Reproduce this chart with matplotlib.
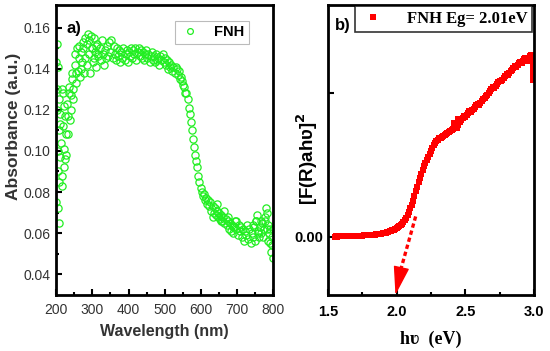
import matplotlib
matplotlib.use("Agg")
import matplotlib.pyplot as plt
import numpy as np

# ---- panel a) absorbance, 200..800 nm every 3 nm
wl = np.arange(200, 801, 3)
absorb = [
    0.075, 0.152, 0.141, 0.065, 0.113, 0.083, 0.128, 0.092, 0.117, 0.098,
    0.123, 0.108, 0.131, 0.115, 0.127, 0.138, 0.125, 0.147, 0.133, 0.150,
    0.139, 0.151, 0.136, 0.148, 0.143, 0.153, 0.138, 0.155, 0.142, 0.157,
    0.147, 0.138, 0.156, 0.150, 0.143, 0.155, 0.148, 0.141, 0.152, 0.146,
    0.150, 0.144, 0.154, 0.147, 0.142, 0.149, 0.145, 0.151, 0.146, 0.153,
    0.148, 0.154, 0.145, 0.151, 0.147, 0.144, 0.150, 0.146, 0.149, 0.143,
    0.148, 0.145, 0.150, 0.144, 0.147, 0.149, 0.143, 0.148, 0.146, 0.150,
    0.145, 0.149, 0.147, 0.150, 0.144, 0.148, 0.150, 0.146, 0.149, 0.145,
    0.148, 0.144, 0.147, 0.149, 0.145, 0.147, 0.143, 0.146, 0.148, 0.144,
    0.146, 0.143, 0.147, 0.144, 0.145, 0.142, 0.146, 0.144, 0.147, 0.143,
    0.145, 0.142, 0.144, 0.140, 0.143, 0.141, 0.142, 0.139, 0.141, 0.138,
    0.141, 0.140, 0.137, 0.139, 0.135, 0.136, 0.134, 0.132, 0.131, 0.128,
    0.128, 0.125, 0.121, 0.118, 0.114, 0.110, 0.106, 0.102, 0.098, 0.095,
    0.092, 0.088, 0.085, 0.082, 0.080, 0.078, 0.079, 0.076, 0.077, 0.074,
    0.076, 0.073, 0.075, 0.071, 0.073, 0.070, 0.072, 0.069, 0.071, 0.068,
    0.070, 0.067, 0.069, 0.066, 0.068, 0.065, 0.067, 0.064, 0.066, 0.062,
    0.065, 0.061, 0.064, 0.060, 0.063, 0.066, 0.062, 0.059, 0.064, 0.061,
    0.063, 0.058, 0.062, 0.056, 0.061, 0.059, 0.064, 0.057, 0.062, 0.055,
    0.060, 0.058, 0.063, 0.056, 0.066, 0.069, 0.061, 0.058, 0.063, 0.060,
    0.065, 0.062, 0.068, 0.072, 0.070, 0.064, 0.060, 0.055, 0.051, 0.058,
    0.048,
]
# extra scattered readings (noisy regions)
wl_extra = [201, 202, 203, 204, 205, 206, 207, 208, 209, 211, 212, 214, 216, 217,
            219, 221, 223, 225, 228, 232, 236, 240, 244, 248, 252, 256, 262, 268,
            274, 280, 286, 292, 298, 304, 310, 316, 634, 644, 656, 664, 676, 688,
            696, 745, 752, 758, 765, 772, 776, 782, 786, 792, 796, 799]
absorb_extra = [0.143, 0.130, 0.120, 0.100, 0.090, 0.072, 0.125, 0.110, 0.085, 0.097,
                0.118, 0.104, 0.088, 0.130, 0.112, 0.101, 0.122, 0.096, 0.108, 0.117,
                0.128, 0.120, 0.135, 0.130, 0.142, 0.138, 0.145, 0.140, 0.150, 0.145,
                0.152, 0.154, 0.150, 0.145, 0.151, 0.147, 0.068, 0.074, 0.066, 0.071,
                0.068, 0.063, 0.066, 0.064, 0.066, 0.060, 0.066, 0.058, 0.066, 0.062,
                0.056, 0.062, 0.054, 0.062]

# ---- panel b) Tauc-type plot, 1.55..2.99 eV every 0.01 eV
hv = np.round(np.arange(1.55, 3.0, 0.01), 2)
fr = [
    0.000, 0.001, 0.000, 0.001, 0.002, 0.001, 0.002, 0.002, 0.003, 0.002,
    0.003, 0.004, 0.003, 0.004, 0.005, 0.004, 0.005, 0.006, 0.006, 0.007,
    0.007, 0.008, 0.008, 0.009, 0.010, 0.010, 0.011, 0.012, 0.013, 0.014,
    0.015, 0.016, 0.018, 0.019, 0.021, 0.023, 0.025, 0.027, 0.030, 0.033,
    0.036, 0.040, 0.044, 0.048, 0.053, 0.058, 0.065, 0.072, 0.080, 0.090,
    0.102, 0.116, 0.132, 0.150, 0.172, 0.196, 0.222, 0.250, 0.282, 0.315,
    0.348, 0.380, 0.410, 0.438, 0.465, 0.490, 0.512, 0.535, 0.556, 0.578,
    0.600, 0.620, 0.638, 0.652, 0.665, 0.675, 0.684, 0.690, 0.697, 0.703,
    0.710, 0.716, 0.722, 0.728, 0.735, 0.742, 0.750, 0.790, 0.775, 0.760,
    0.780, 0.800, 0.815, 0.830, 0.842, 0.835, 0.850, 0.862, 0.873, 0.866,
    0.880, 0.892, 0.905, 0.915, 0.924, 0.918, 0.932, 0.945, 0.957, 0.966,
    0.978, 0.990, 1.002, 1.015, 1.028, 1.040, 1.035, 1.050, 1.062, 1.075,
    1.088, 1.082, 1.095, 1.108, 1.120, 1.132, 1.125, 1.140, 1.152, 1.165,
    1.178, 1.190, 1.184, 1.196, 1.208, 1.220, 1.212, 1.226, 1.238, 1.230,
    1.222, 1.246, 1.258, 1.270, 1.240,
]
hv_extra = [2.445, 2.455, 2.995, 2.995, 2.995, 2.995, 2.965, 2.935]
fr_extra = [0.820, 0.805, 1.210, 1.170, 1.130, 1.090, 1.235, 1.245]

plt.rcParams['font.family'] = ['Liberation Sans', 'DejaVu Sans']
serif = ['Liberation Serif', 'DejaVu Serif']
fig = plt.figure(figsize=(5.5, 3.51), dpi=100)

# -------- a)
ax1 = fig.add_axes([0.102, 0.160, 0.395, 0.826])
ax1.plot(wl, absorb, 'o', mfc='none', mec='#22ee22', ms=5.2, mew=0.9, label='FNH')
ax1.plot(wl_extra, absorb_extra, 'o', mfc='none', mec='#22ee22', ms=5.2, mew=0.9)
ax1.set_xlim(200, 800)
ax1.set_ylim(0.030, 0.171)
ax1.set_xticks(np.arange(200, 801, 100))
ax1.set_xticks(np.arange(250, 800, 100), minor=True)
ax1.set_yticks([0.04, 0.06, 0.08, 0.10, 0.12, 0.14, 0.16])
ax1.set_yticks(np.arange(0.05, 0.17, 0.02), minor=True)
ax1.yaxis.set_major_formatter(matplotlib.ticker.FormatStrFormatter('%.2f'))
ax1.tick_params(direction='in', which='both', width=1.5, labelsize=10, labelcolor='#333333')
ax1.tick_params(which='major', length=4)
ax1.tick_params(which='minor', length=2.5)
ax1.tick_params(axis='x', pad=6)
ax1.tick_params(axis='y', pad=4)
for s in ax1.spines.values():
    s.set_linewidth(2)
ax1.set_xlabel('Wavelength (nm)', fontsize=11.5, fontweight='bold', color='#333333', labelpad=5)
ax1.set_ylabel('Absorbance (a.u.)', fontsize=12.5, fontweight='bold', color='#333333')
ax1.yaxis.set_label_coords(-0.16, 0.58)
ax1.text(0.05, 0.92, 'a)', transform=ax1.transAxes, fontsize=12, fontweight='bold', va='center')
leg1 = ax1.legend(loc='upper right', bbox_to_anchor=(0.887, 0.945), prop={'weight': 'bold', 'size': 10.5},
                  fancybox=False, edgecolor='#aaaaaa', handlelength=1.5, borderpad=0.3,
                  handletextpad=0.9, markerscale=0.8, borderaxespad=0)
leg1.get_frame().set_linewidth(0.8)

# -------- b)
ax2 = fig.add_axes([0.596, 0.160, 0.375, 0.826])
ax2.plot(hv, fr, 's', color='#ff0000', ms=5, mew=0, label='FNH Eg= 2.01eV')
ax2.plot(hv_extra, fr_extra, 's', color='#ff0000', ms=5, mew=0)
ax2.plot([2.139, 2.025], [0.14, -0.25], color='#ff0000', lw=2.4, ls=(0, (1.3, 0.9)))
ax2.annotate('', xy=(1.992, -0.407), xytext=(2.03, -0.24),
             arrowprops=dict(arrowstyle='-|>,head_length=0.9,head_width=0.25',
                             color='#ff0000', lw=1, mutation_scale=20, shrinkA=0, shrinkB=0))
ax2.set_xlim(1.5, 3.0)
ax2.set_ylim(-0.407, 1.616)
ax2.set_xticks([1.5, 2.0, 2.5, 3.0])
ax2.set_xticks([1.75, 2.25, 2.75], minor=True)
ax2.xaxis.set_major_formatter(matplotlib.ticker.FormatStrFormatter('%.1f'))
ax2.set_yticks([0, 1])
ax2.set_yticklabels(['0.00', ''])
ax2.tick_params(direction='in', which='both', width=1.5, labelsize=10.5)
ax2.tick_params(which='major', length=4)
ax2.tick_params(which='minor', length=2.5)
ax2.tick_params(axis='x', pad=7)
for lab in ax2.get_xticklabels() + ax2.get_yticklabels():
    lab.set_fontweight('bold')
for s in ax2.spines.values():
    s.set_linewidth(2)
ax2.set_xlabel('h\u028b  (eV)', fontsize=13, fontweight='bold', family=serif, labelpad=9)
ax2.set_ylabel('[F(R)ah\u028b]$^\\mathbf{2}$', fontsize=13.5, fontweight='bold')
ax2.yaxis.set_label_coords(-0.04, 0.47)
ax2.text(0.035, 0.928, 'b)', transform=ax2.transAxes, fontsize=12, fontweight='bold', va='center')
leg2 = ax2.legend(loc='upper right', bbox_to_anchor=(0.995, 1.0),
                  prop={'weight': 'bold', 'size': 12, 'family': serif},
                  fancybox=False, edgecolor='black', handlelength=1.6, borderpad=0.3,
                  handletextpad=1.2, borderaxespad=0.05)
leg2.get_frame().set_linewidth(1.2)

fig.savefig('out.png', dpi=100)
